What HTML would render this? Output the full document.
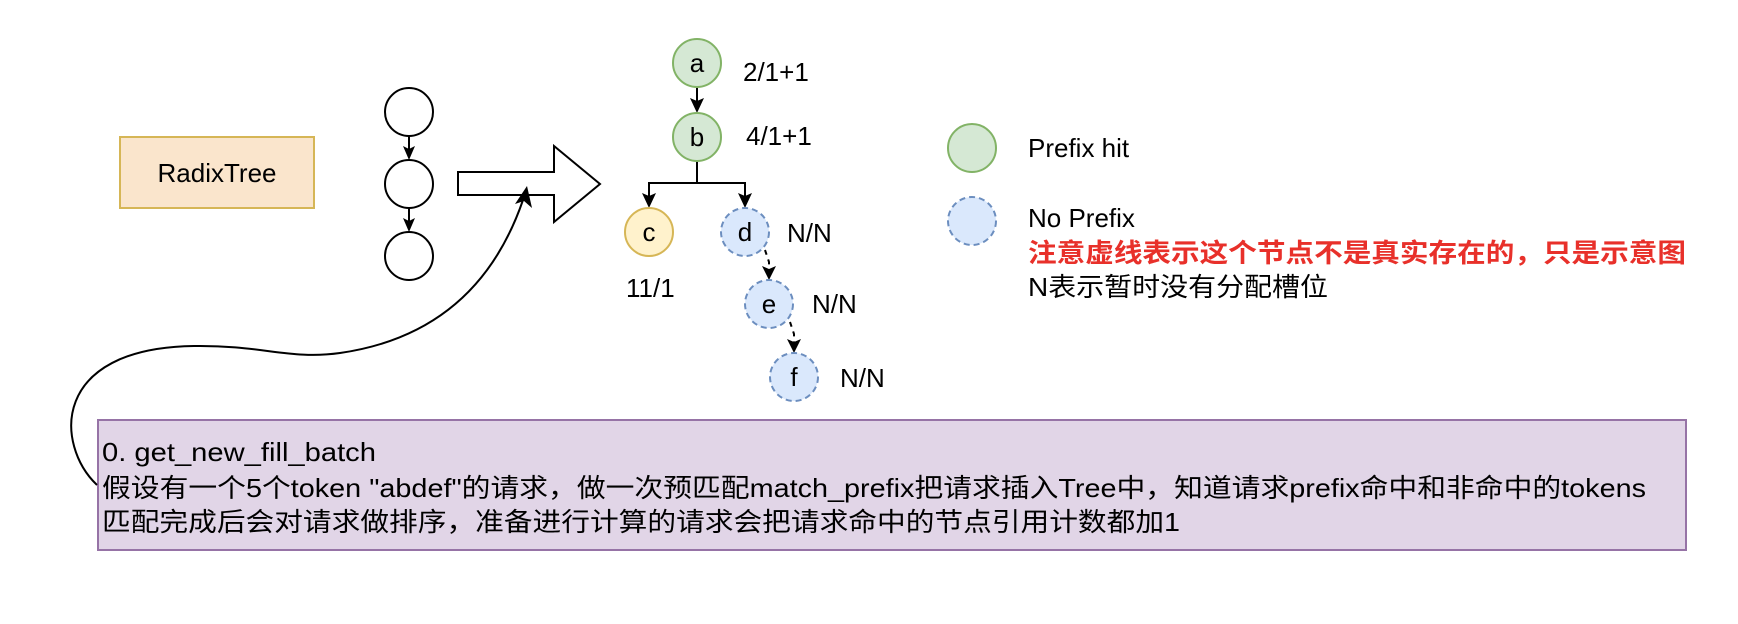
<!DOCTYPE html>
<html><head><meta charset="utf-8"><style>
html,body{margin:0;padding:0;background:#fff;}
svg{display:block;}
text{font-family:"Liberation Sans","Noto Sans CJK SC",sans-serif;font-size:26px;fill:#000;}
</style></head><body>
<svg width="1738" height="624" viewBox="0 0 1738 624" xmlns="http://www.w3.org/2000/svg">
<!-- RadixTree box -->
<rect x="120" y="137" width="194" height="71" fill="#fae5cc" stroke="#d6b656" stroke-width="2"/>
<text x="217" y="182" text-anchor="middle">RadixTree</text>

<!-- small chain -->
<g fill="#fff" stroke="#000" stroke-width="2">
<ellipse cx="409" cy="112" rx="24" ry="24"/>
<ellipse cx="409" cy="184" rx="24" ry="24"/>
<ellipse cx="409" cy="256" rx="24" ry="24"/>
</g>
<g stroke="#000" stroke-width="2"><line x1="409" y1="136" x2="409" y2="152"/><line x1="409" y1="208" x2="409" y2="224"/></g>
<polygon points="403,146 409,160 415,146 409,149" fill="#000"/>
<polygon points="403,218 409,232 415,218 409,221" fill="#000"/>

<!-- big arrow -->
<polygon points="458,172 554,172 554,146 600,184 554,222 554,195 458,195" fill="#fff" stroke="#000" stroke-width="2"/>

<!-- tree -->
<g stroke="#000" stroke-width="2" fill="none">
<line x1="697" y1="87" x2="697" y2="104"/>
<polyline points="697,161 697,183 649,183 649,199"/>
<polyline points="697,183 745,183 745,199"/>
</g>
<polygon points="690,98 697,113 704,98 697,101" fill="#000"/>
<polygon points="642,193 649,208 656,193 649,196" fill="#000"/>
<polygon points="738,193 745,208 752,193 745,196" fill="#000"/>
<g stroke="#000" stroke-width="2" stroke-dasharray="5,5" fill="none">
<polyline points="765,250 769,262 769,272"/>
<polyline points="790,322 794,334 794,345"/>
</g>
<polygon points="762,266 769,280 776,266 769,269" fill="#000"/>
<polygon points="787,339 794,353 801,339 794,342" fill="#000"/>

<g stroke-width="2">
<circle cx="697" cy="63" r="24" fill="#d5e8d4" stroke="#82b366"/>
<circle cx="697" cy="137" r="24" fill="#d5e8d4" stroke="#82b366"/>
<circle cx="649" cy="232" r="24" fill="#fff2cc" stroke="#d6b656"/>
<circle cx="745" cy="232" r="24" fill="#dae8fc" stroke="#6c8ebf" stroke-dasharray="6,4"/>
<circle cx="769" cy="304" r="24" fill="#dae8fc" stroke="#6c8ebf" stroke-dasharray="6,4"/>
<circle cx="794" cy="377" r="24" fill="#dae8fc" stroke="#6c8ebf" stroke-dasharray="6,4"/>
</g>
<g text-anchor="middle">
<text x="697" y="72">a</text>
<text x="697" y="146">b</text>
<text x="649" y="241">c</text>
<text x="745" y="241">d</text>
<text x="769" y="313">e</text>
<text x="794" y="386">f</text>
</g>
<text x="743" y="81">2/1+1</text>
<text x="746" y="145">4/1+1</text>
<text x="787" y="242">N/N</text>
<text x="812" y="313">N/N</text>
<text x="840" y="387">N/N</text>
<text x="626" y="297">11/1</text>

<!-- legend -->
<circle cx="972" cy="148" r="24" fill="#d5e8d4" stroke="#82b366" stroke-width="2"/>
<circle cx="972" cy="221" r="24" fill="#dae8fc" stroke="#6c8ebf" stroke-width="2" stroke-dasharray="6,4"/>
<text x="1028" y="157">Prefix hit</text>
<text x="1028" y="227">No Prefix</text>
<text x="1028" y="262" textLength="658" lengthAdjust="spacingAndGlyphs" style="fill:#e8302a;font-weight:bold">注意虚线表示这个节点不是真实存在的，只是示意图</text>
<text x="1028" y="296" textLength="300" lengthAdjust="spacingAndGlyphs">N表示暂时没有分配槽位</text>

<!-- bottom box -->
<rect x="98" y="420" width="1588" height="130" fill="#e1d5e7" stroke="#9673a6" stroke-width="2"/>
<text x="102" y="461" textLength="274" lengthAdjust="spacingAndGlyphs">0. get_new_fill_batch</text>
<text x="102" y="497" textLength="1544" lengthAdjust="spacingAndGlyphs">假设有一个5个token "abdef"的请求，做一次预匹配match_prefix把请求插入Tree中，知道请求prefix命中和非命中的tokens</text>
<text x="102" y="531" textLength="1078" lengthAdjust="spacingAndGlyphs">匹配完成后会对请求做排序，准备进行计算的请求会把请求命中的节点引用计数都加1</text>

<!-- curved connector -->
<path d="M97,485 C55,445 50,348 194,346 C262,345 290,360 340,353 C430,340 492,290 523,200" fill="none" stroke="#000" stroke-width="2"/>
<polygon points="527,186 532,208 524,201 515,204" fill="#000"/>
</svg>
</body></html>
